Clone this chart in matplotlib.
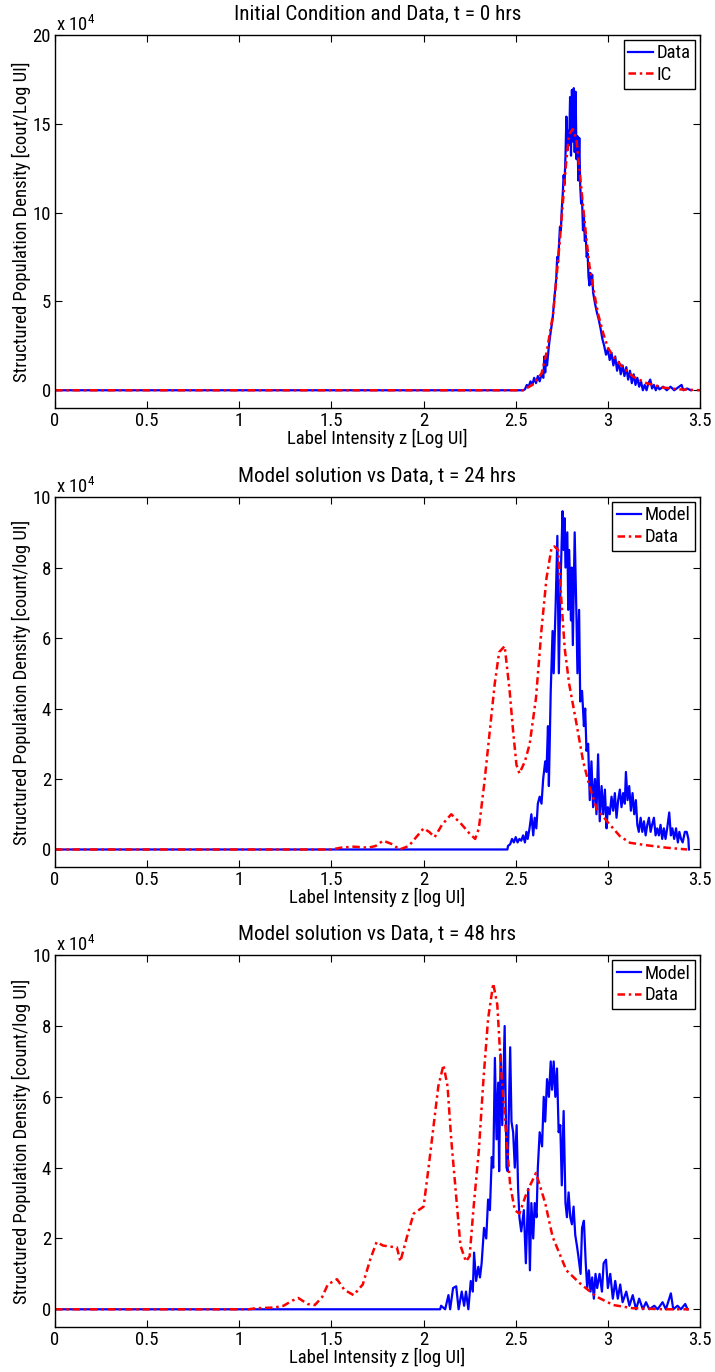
import matplotlib
matplotlib.use("Agg")
import matplotlib.pyplot as plt
from matplotlib import font_manager

# values are in units of 10^4 (as shown on the y axes)

# t = 0 hrs: measured data
z_data_t0 = [0, 2.54, 2.55, 2.56, 2.57, 2.58, 2.59, 2.60, 2.61, 2.62, 2.63, 2.64, 2.65, 2.655, 2.66,
             2.665, 2.67, 2.68, 2.69, 2.70, 2.71, 2.72, 2.725, 2.73, 2.74, 2.745, 2.75, 2.755, 2.76,
             2.765, 2.77, 2.775, 2.78, 2.785, 2.79, 2.795, 2.80, 2.805, 2.81, 2.815, 2.82, 2.825,
             2.83, 2.835, 2.84, 2.845, 2.85, 2.855, 2.86, 2.865, 2.87, 2.875, 2.88, 2.885, 2.89,
             2.895, 2.90, 2.905, 2.91, 2.915, 2.92, 2.93, 2.94, 2.95, 2.96, 2.97, 2.98, 2.99, 3.00,
             3.01, 3.02, 3.03, 3.04, 3.05, 3.06, 3.07, 3.08, 3.09, 3.10, 3.11, 3.12, 3.13, 3.14,
             3.15, 3.16, 3.17, 3.18, 3.19, 3.20, 3.21, 3.22, 3.23, 3.24, 3.25, 3.26, 3.27, 3.28,
             3.30, 3.32, 3.34, 3.36, 3.38, 3.40, 3.41, 3.43, 3.45]
data_t0 = [0, 0, 0.05, 0.3, 0.2, 0.5, 0.3, 0.7, 0.4, 0.8, 0.5, 0.9, 0.7, 1.9, 1.0,
           2.0, 1.4, 2.5, 3.3, 4.0, 5.2, 6.3, 7.5, 7.2, 9.2, 9.0, 10.2, 11.0, 12.1,
           11.6, 13.2, 15.4, 13.5, 14.6, 13.8, 16.5, 13.2, 16.9, 14.0, 17.0, 13.4, 16.8,
           13.0, 14.3, 11.8, 14.2, 11.5, 10.5, 10.7, 9.0, 9.8, 8.4, 8.7, 7.5, 7.7,
           6.4, 5.9, 6.6, 6.0, 6.5, 5.5, 4.9, 4.4, 4.0, 3.5, 2.9, 2.5, 2.0, 2.3,
           1.7, 2.1, 1.4, 1.9, 1.1, 1.6, 0.9, 1.4, 0.8, 1.3, 0.6, 1.1, 0.4, 0.9,
           0.3, 0.7, 0.2, 0.5, 0.0, 0.3, 0.0, 0.4, 0.6, 0.1, 0.3, 0.0, 0.25, 0.05,
           0.2, 0.0, 0.2, 0.0, 0.15, 0.3, 0.0, 0.1, 0.0]

# t = 0 hrs: initial condition
z_ic = [0, 2.54, 2.59, 2.64, 2.667, 2.685, 2.703, 2.72, 2.74, 2.757, 2.775, 2.79, 2.81, 2.83,
        2.848, 2.866, 2.884, 2.90, 2.92, 2.947, 2.975, 3.0, 3.03, 3.08, 3.14, 3.21, 3.30, 3.39, 3.5]
ic = [0, 0, 0.3, 0.94, 2.1, 3.2, 4.3, 6.2, 8.5, 10.7, 13.0, 14.4, 14.7, 14.1,
      12.2, 10.3, 8.5, 7.0, 5.8, 4.3, 3.2, 2.4, 1.9, 1.3, 0.75, 0.4, 0.15, 0.05, 0]

# t = 24 hrs: model
z_model_t24 = [0, 2.455, 2.458, 2.47, 2.48, 2.49, 2.50, 2.51, 2.52, 2.53, 2.54, 2.55, 2.558, 2.565,
               2.575, 2.585, 2.595, 2.603, 2.612, 2.62, 2.63, 2.64, 2.649, 2.66, 2.667, 2.675,
               2.68, 2.69, 2.70, 2.706, 2.717, 2.726, 2.734, 2.743, 2.754, 2.76, 2.766, 2.77,
               2.78, 2.785, 2.79, 2.80, 2.804, 2.81, 2.82, 2.83, 2.835, 2.844, 2.85, 2.86, 2.87,
               2.877, 2.884, 2.893, 2.902, 2.911, 2.92, 2.93, 2.938, 2.947, 2.956, 2.966, 2.975,
               2.984, 2.993, 3.0, 3.01, 3.02, 3.029, 3.038, 3.047, 3.056, 3.065, 3.074, 3.083,
               3.092, 3.098, 3.107, 3.116, 3.125, 3.134, 3.143, 3.152, 3.16, 3.168, 3.178,
               3.187, 3.196, 3.205, 3.214, 3.223, 3.232, 3.24, 3.25, 3.259, 3.268, 3.277,
               3.286, 3.295, 3.304, 3.313, 3.322, 3.333, 3.342, 3.35, 3.36, 3.37, 3.38,
               3.388, 3.397, 3.406, 3.418, 3.428, 3.437, 3.44]
model_t24 = [0, 0, 0.1, 0.15, 0.3, 0.2, 0.35, 0.2, 0.3, 0.25, 0.4, 0.2, 0.5, 0.3,
             0.6, 1.0, 0.4, 0.9, 0.6, 1.3, 1.5, 1.3, 2.0, 2.5, 2.2, 3.5,
             1.8, 4.5, 6.2, 5.0, 7.0, 8.9, 5.0, 7.5, 9.6, 8.5, 9.4, 8.0,
             9.0, 6.8, 8.5, 6.5, 8.0, 5.8, 9.0, 6.5, 5.0, 6.8, 4.2, 4.5, 3.5,
             4.0, 2.8, 3.0, 1.4, 2.5, 1.2, 2.0, 1.0, 2.7, 0.8, 1.8, 1.0,
             1.7, 0.6, 1.2, 1.0, 1.5, 1.1, 1.6, 0.9, 1.4, 1.7, 1.2, 1.6,
             1.3, 2.2, 1.4, 1.8, 1.1, 1.6, 1.0, 1.4, 0.7, 0.5, 0.9,
             0.5, 0.8, 0.4, 0.7, 0.9, 0.5, 0.7, 0.9, 0.4, 0.6, 0.4,
             0.7, 0.3, 0.6, 0.3, 0.6, 1.05, 0.4, 0.6, 0.3, 0.6, 0.2,
             0.5, 0.3, 0.2, 0.5, 0.5, 0.3, 0.0]

# t = 24 hrs: data
z_data_t24 = [0, 1.5, 1.55, 1.62, 1.7, 1.74, 1.78, 1.83, 1.87, 1.92, 1.96, 2.0, 2.03, 2.06, 2.10,
              2.15, 2.20, 2.25, 2.28, 2.30, 2.33, 2.36, 2.386, 2.41, 2.44, 2.467, 2.485, 2.504,
              2.52, 2.55, 2.576, 2.61, 2.64, 2.667, 2.694, 2.71, 2.73, 2.75, 2.766, 2.79, 2.83,
              2.866, 2.90, 2.94, 3.0, 3.065, 3.12, 3.21, 3.32, 3.43]
data_t24 = [0, 0, 0.05, 0.08, 0.05, 0.1, 0.25, 0.15, 0.0, 0.1, 0.35, 0.6, 0.5, 0.35, 0.7,
            1.0, 0.75, 0.45, 0.3, 0.6, 1.9, 3.4, 4.7, 5.6, 5.77, 4.5, 3.4, 2.4,
            2.16, 2.5, 3.0, 4.3, 6.25, 7.7, 8.55, 8.6, 8.5, 6.9, 5.7, 4.7, 3.56,
            2.5, 1.8, 1.15, 0.77, 0.38, 0.19, 0.12, 0.05, 0]

# t = 48 hrs: model
z_model_t48 = [0, 2.09, 2.095, 2.117, 2.135, 2.144, 2.16, 2.177, 2.19, 2.207, 2.22, 2.23, 2.243,
               2.256, 2.267, 2.274, 2.285, 2.297, 2.306, 2.315, 2.328, 2.34, 2.35, 2.36, 2.37,
               2.378, 2.387, 2.396, 2.405, 2.41, 2.418, 2.427, 2.44, 2.45, 2.456, 2.47, 2.477,
               2.486, 2.495, 2.505, 2.513, 2.52, 2.53, 2.544, 2.555, 2.568, 2.577, 2.585, 2.595,
               2.603, 2.613, 2.62, 2.63, 2.643, 2.652, 2.66, 2.67, 2.68, 2.69, 2.697, 2.706,
               2.715, 2.724, 2.733, 2.742, 2.75, 2.76, 2.77, 2.778, 2.787, 2.796, 2.805, 2.814,
               2.823, 2.832, 2.84, 2.852, 2.86, 2.87, 2.88, 2.888, 2.897, 2.906, 2.915, 2.924,
               2.933, 2.942, 2.955, 2.968, 2.977, 2.99, 3.0, 3.013, 3.027, 3.04, 3.054, 3.067,
               3.08, 3.1, 3.117, 3.135, 3.153, 3.17, 3.19, 3.207, 3.225, 3.252, 3.27, 3.297,
               3.315, 3.342, 3.355, 3.378, 3.396, 3.42, 3.432]
model_t48 = [0, 0, 0.1, 0.0, 0.4, 0.0, 0.6, 0.65, 0.0, 0.5, 0.1, 0.5, 0.0,
             0.8, 0.5, 1.6, 0.8, 1.2, 0.9, 1.3, 2.3, 2.0, 3.1, 2.8, 4.3,
             4.0, 7.1, 4.8, 6.4, 3.9, 7.2, 5.2, 8.0, 4.0, 3.9, 7.4, 5.3,
             5.0, 4.0, 5.2, 3.4, 2.6, 2.2, 2.8, 1.3, 3.4, 1.1, 3.0, 2.0,
             3.0, 2.6, 4.0, 5.0, 4.6, 6.0, 5.3, 6.5, 6.0, 7.0, 6.2, 7.0,
             6.0, 6.8, 5.0, 5.2, 3.5, 5.6, 3.0, 2.6, 3.3, 2.6, 2.4, 2.9,
             2.1, 1.8, 1.5, 1.0, 2.3, 2.5, 1.3, 0.6, 1.1, 0.5, 0.9, 0.3,
             1.0, 0.6, 1.0, 0.5, 1.3, 1.4, 0.6, 1.0, 0.3, 0.8, 0.3, 0.7,
             0.2, 0.5, 0.1, 0.4, 0.0, 0.3, 0.0, 0.2, 0.0, 0.1, 0.0, 0.2,
             0.0, 0.45, 0.0, 0.1, 0.0, 0.15, 0.0]

# t = 48 hrs: data
z_data_t48 = [0, 1.05, 1.09, 1.19, 1.24, 1.29, 1.32, 1.37, 1.41, 1.45, 1.48, 1.53, 1.57, 1.62,
              1.67, 1.71, 1.745, 1.78, 1.82, 1.855, 1.874, 1.91, 1.946, 2.0, 2.027, 2.05, 2.08,
              2.108, 2.13, 2.15, 2.18, 2.20, 2.23, 2.25, 2.27, 2.30, 2.325, 2.35, 2.378, 2.40,
              2.42, 2.45, 2.47, 2.495, 2.52, 2.56, 2.61, 2.66, 2.70, 2.775, 2.847, 2.937, 3.03,
              3.135, 3.31, 3.44]
data_t48 = [0, 0, 0.03, 0.05, 0.1, 0.25, 0.32, 0.15, 0.12, 0.35, 0.7, 0.85, 0.55, 0.4,
            0.7, 1.4, 1.9, 1.8, 1.77, 1.75, 1.35, 2.05, 2.7, 2.9, 4.0, 5.0, 6.3,
            6.9, 6.3, 4.8, 3.0, 1.8, 1.35, 1.5, 2.8, 4.5, 6.5, 8.2, 9.2, 8.6,
            6.8, 4.8, 3.5, 2.8, 2.7, 3.3, 3.85, 3.0, 2.05, 1.1, 0.74, 0.36, 0.12,
            0.03, 0.0, 0.0]

panels = [
    dict(title="Initial Condition and Data, t = 0 hrs",
         ylabel="Structured Population Density [cout/Log UI]",
         xlabel="Label Intensity z [Log UI]",
         blue=(z_data_t0, data_t0, "Data"), red=(z_ic, ic, "IC"),
         ylim=(-1, 20), yticks=[0, 5, 10, 15, 20]),
    dict(title="Model solution vs Data, t = 24 hrs",
         ylabel="Structured Population Density [count/log UI]",
         xlabel="Label Intensity z [log UI]",
         blue=(z_model_t24, model_t24, "Model"), red=(z_data_t24, data_t24, "Data"),
         ylim=(-0.5, 10), yticks=[0, 2, 4, 6, 8, 10]),
    dict(title="Model solution vs Data, t = 48 hrs",
         ylabel="Structured Population Density [count/log UI]",
         xlabel="Label Intensity z [log UI]",
         blue=(z_model_t48, model_t48, "Model"), red=(z_data_t48, data_t48, "Data"),
         ylim=(-0.5, 10), yticks=[0, 2, 4, 6, 8, 10]),
]

# pick a narrow sans face if one is installed (the original uses a condensed Helvetica look)
installed = {(f.name, f.stretch) for f in font_manager.fontManager.ttflist}
names = {n for n, _ in installed}
font_size = 11.5
title_size = 12.5
family = ["Liberation Sans", "DejaVu Sans"]
stretch = "normal"
for cand in ["Liberation Sans Narrow", "Roboto Condensed", "Open Sans Condensed"]:
    if cand in names:
        family = [cand, "Liberation Sans", "DejaVu Sans"]
        font_size = 13.5
        title_size = 15.2
        break
else:
    if ("DejaVu Sans", "condensed") in installed:
        family = ["DejaVu Sans"]
        stretch = "condensed"
        font_size = 12
        title_size = 13

plt.rcParams["font.family"] = family
plt.rcParams["font.stretch"] = stretch
plt.rcParams["mathtext.fontset"] = "custom"
plt.rcParams["mathtext.rm"] = family[0]
plt.rcParams["font.size"] = font_size

fig = plt.figure(figsize=(7.15, 13.72), dpi=100)
fig.patch.set_facecolor("white")

# axes boxes [left, bottom, width, height] in figure fraction
boxes = [
    [0.077, 0.7026, 0.902, 0.272],
    [0.077, 0.368, 0.902, 0.2697],
    [0.077, 0.0328, 0.902, 0.271],
]

for box, p in zip(boxes, panels):
    ax = fig.add_axes(box)
    bz, bv, blabel = p["blue"]
    rz, rv, rlabel = p["red"]
    ax.plot(bz, bv, color="#0000ff", linewidth=1.6, label=blabel)
    ax.plot(rz, rv, color="#ff0000", linewidth=1.8,
            linestyle=(0, (3, 1.5, 1, 1.5)), label=rlabel)

    ax.set_xlim(0, 3.5)
    ax.set_ylim(*p["ylim"])
    ax.set_xticks([0, 0.5, 1, 1.5, 2, 2.5, 3, 3.5])
    ax.set_xticklabels(["0", "0.5", "1", "1.5", "2", "2.5", "3", "3.5"])
    ax.set_yticks(p["yticks"])
    ax.tick_params(direction="in", top=True, right=True, length=5, width=0.8, pad=3)
    for s in ax.spines.values():
        s.set_linewidth(1.0)

    ax.set_title(p["title"], pad=11, fontsize=title_size)
    ax.set_xlabel(p["xlabel"], labelpad=-1)
    ax.set_ylabel(p["ylabel"], labelpad=1)
    ax.text(0.002, 1.0, r"x 10$^{4}$", transform=ax.transAxes, ha="left", va="bottom")

    leg = ax.legend(loc="upper right", fancybox=False, framealpha=1, edgecolor="black",
                    borderaxespad=0.25, borderpad=0.25, handlelength=1.3,
                    handletextpad=0.2, labelspacing=0.2)
    leg.get_frame().set_linewidth(1.0)

plt.savefig("out.png", dpi=100)
